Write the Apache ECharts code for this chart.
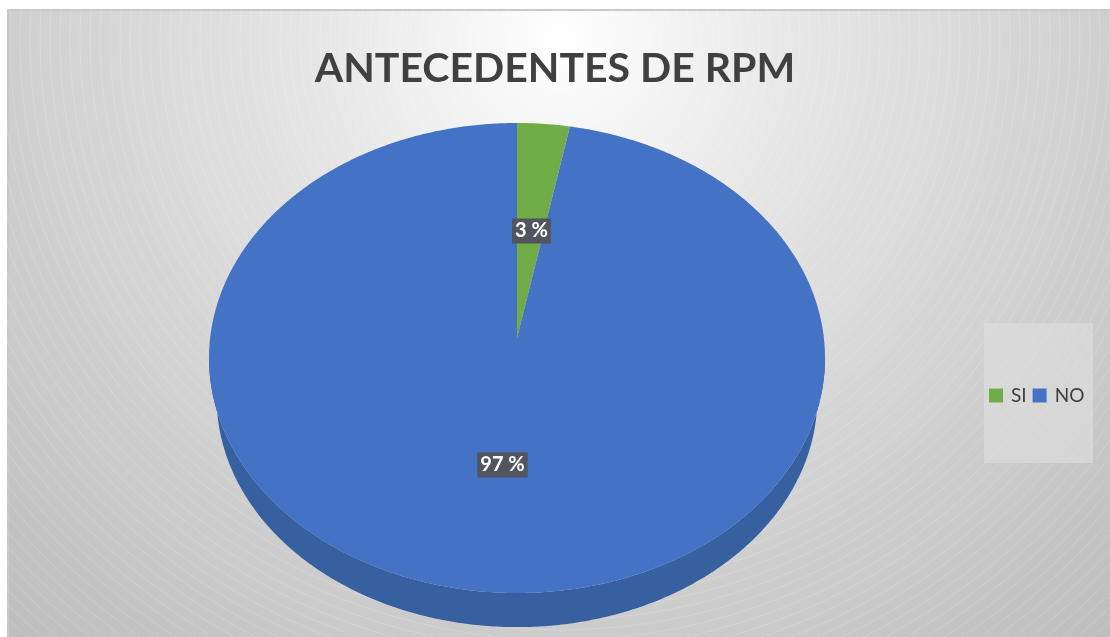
<!DOCTYPE html>
<html>
<head>
<meta charset="utf-8">
<script src="https://cdn.jsdelivr.net/npm/echarts@6/dist/echarts.min.js"></script>
<style>
    html, body { margin: 0; padding: 0; background: #fff; }
    #chart { width: 1110px; height: 637px; }
</style>
</head>
<body>
<div id="chart"></div>
<script>
'use strict';
// 数据
const categories = ['SI', 'NO'];
const values = [3, 97];
const sliceColors = ['#70AD47', '#4472C4'];
const sideColors = ['#55863a', '#36609f'];
const titleText = 'ANTECEDENTES DE RPM';

let initChart = (function() {
    let myChart = echarts.init(document.getElementById('chart'));

    // 椭圆饼图的几何参数
    let cx = 517, cy = 358, rx = 308, ry = 235;
    let apexY = 338, depth = 40, shrink = 0.975;
    let total = values.reduce(function(a, b) { return a + b; }, 0);

    function rimPoint(theta) {
        let k = (apexY - cy) / ry;
        let c = Math.cos(theta), s = Math.sin(theta);
        let t = k * c + Math.sqrt(k * k * c * c - k * k + 1);
        return [cx + t * rx * s, apexY - t * ry * c];
    }

    function renderSlice(params, api) {
        let idx = params.seriesIndex;
        let before = 0;
        for (let i = 0; i < idx; i++) before += values[i];
        let a0 = before / total * Math.PI * 2;
        let a1 = (before + api.value(0)) / total * Math.PI * 2;
        let steps = Math.max(2, Math.ceil((a1 - a0) / (Math.PI / 360)));
        let rim = [];
        for (let i = 0; i <= steps; i++) {
            rim.push(rimPoint(a0 + (a1 - a0) * i / steps));
        }
        let front = rim.filter(function(p) { return p[1] >= cy - 1; });
        let children = [];
        if (front.length >= 2) {
            // 侧面：底部椭圆略小一些（透视）
            let side = front.slice();
            for (let i = front.length - 1; i >= 0; i--) {
                side.push([
                    cx + (front[i][0] - cx) * shrink,
                    cy + depth + (front[i][1] - cy) * shrink
                ]);
            }
            children.push({
                type: 'polygon',
                z2: 1,
                shape: { points: side },
                style: { fill: sideColors[idx] }
            });
        }
        children.push({
            type: 'polygon',
            z2: 2,
            shape: { points: [[cx, apexY]].concat(rim) },
            style: { fill: sliceColors[idx] }
        });
        let mid = (a0 + a1) / 2;
        children.push({
            type: 'text',
            z2: 10,
            style: {
                x: cx + 0.5 * rx * Math.sin(mid),
                y: 348 - 0.5 * ry * Math.cos(mid),
                text: api.value(0) + ' %',
                fill: '#fff',
                font: 'bold 20px Lato',
                align: 'center',
                verticalAlign: 'middle',
                backgroundColor: '#50555f',
                padding: [3, 3, 2, 3]
            }
        });
        return { type: 'group', children: children };
    }

    // 背景的同心圆纹理
    let rings = [];
    for (let r = 20; r < 1000; r += 10) {
        rings.push({
            type: 'circle',
            silent: true,
            z: -9,
            shape: { cx: 560, cy: 40, r: r },
            style: { fill: null, stroke: 'rgba(255,255,255,0.16)', lineWidth: 1 }
        });
    }

    let option = {
        animation: false,
        title: {
            text: titleText,
            left: 'center',
            top: 43,
            textStyle: {
                fontFamily: 'Lato',
                fontWeight: 'bold',
                fontSize: 41,
                color: '#404040'
            }
        },
        legend: {
            data: categories,
            left: 989,
            top: 386,
            padding: 0,
            icon: 'rect',
            itemWidth: 14,
            itemHeight: 14,
            itemGap: 6,
            textStyle: {
                fontFamily: 'Lato',
                fontSize: 19,
                color: '#404040',
                padding: [0, 0, 0, 3]
            }
        },
        graphic: [{
            type: 'rect',
            silent: true,
            z: -10,
            shape: { x: 8, y: 10, width: 1110, height: 640 },
            style: {
                fill: {
                    type: 'radial', x: 560, y: 40, r: 820, global: true,
                    colorStops: [
                        { offset: 0, color: '#ffffff' },
                        { offset: 0.3, color: '#e6e6e6' },
                        { offset: 0.7, color: '#cdcdcd' },
                        { offset: 1, color: '#bdbdbd' }
                    ]
                },
                stroke: '#c8c8c8',
                lineWidth: 2
            }
        }].concat(rings).concat([{
            type: 'rect',
            silent: true,
            z: 1,
            shape: { x: 984, y: 323, width: 109, height: 140 },
            style: { fill: 'rgba(225,225,225,0.55)' }
        }]),
        series: categories.map(function(name, i) {
            return {
                type: 'custom',
                name: name,
                coordinateSystem: 'none',
                itemStyle: { color: sliceColors[i] },
                renderItem: renderSlice,
                data: [values[i]]
            };
        })
    };

    myChart.setOption(option);
})();
</script>
</body>
</html>
